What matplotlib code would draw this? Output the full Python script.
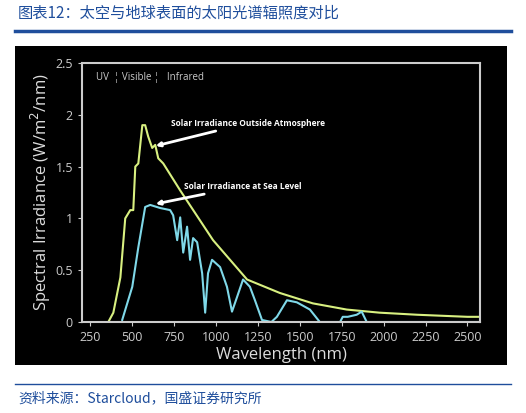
import matplotlib
matplotlib.use("Agg")
import matplotlib.pyplot as plt

space_wl = [357,387,429,458,488,506,518,536,560,577,595,619,637,655,685,786,982,1185,1381,1577,1780,1976,2200,2500,2575]
space_irr = [0,0.09,0.43,1.0,1.08,1.08,1.5,1.53,1.9,1.9,1.79,1.68,1.71,1.58,1.53,1.27,0.79,0.41,0.28,0.18,0.12,0.09,0.07,0.05,0.05]
sea_wl = [440,500,536,577,607,667,726,744,768,786,804,827,845,863,887,917,935,952,976,1024,1065,1095,1125,1161,1202,1232,1274,1330,1363,1423,1482,1560,1619,1740,1756,1786,1839,1869,1899,2000,2575]
sea_irr = [0.02,0.34,0.72,1.11,1.13,1.1,1.08,1.03,0.79,1.01,0.67,0.92,0.6,0.81,0.77,0.47,0.09,0.47,0.6,0.53,0.34,0.1,0.24,0.41,0.34,0.21,0.02,0.0,0.05,0.21,0.19,0.12,0.0,0.0,0.05,0.05,0.07,0.1,0.0,0.0,0.0]
xticks = [250,500,750,1000,1250,1500,1750,2000,2250,2500]
yticks = [0,0.5,1,1.5,2,2.5]
ytick_labels = ["0","0.5","1","1.5","2","2.5"]

plt.rcParams['font.family'] = ['Open Sans', 'DejaVu Sans']
fig = plt.figure(figsize=(5.26,4.13), dpi=100)
W, H = 526, 413
bg = fig.add_axes([15/W, 1-365/H, 492/W, 319/H], zorder=0)
bg.set_facecolor('black'); bg.set_xticks([]); bg.set_yticks([])
for s in bg.spines.values():
    s.set_visible(False)
fig.add_artist(plt.Line2D([15/W, 511/W], [1-31/H]*2, color='#1f4e9c', lw=2.5))
fig.add_artist(plt.Line2D([15/W, 511/W], [1-384/H]*2, color='#1f4e9c', lw=1))
fig.text(18/W, 1-13/H, "图表12：太空与地球表面的太阳光谱辐照度对比", fontsize=11, color='#1f4e9c',
         style='italic', family=['Noto Sans CJK SC','DejaVu Sans'], va='center')
fig.text(18/W, 1-398/H, "资料来源：Starcloud，国盛证券研究所", fontsize=10, color='#1f4e9c',
         style='italic', family=['Noto Sans CJK SC','DejaVu Sans'], va='center')

ax = fig.add_axes([82/W, 1-322/H, 398/W, 259/H], zorder=1)
ax.set_facecolor('black')
ax.plot(space_wl, space_irr, color='#d8f080', lw=1.5)
ax.plot(sea_wl, sea_irr, color='#7fd8e8', lw=1.5)
ax.set_xlim(200, 2575)
ax.set_ylim(0, 2.5)
ax.set_xticks(xticks)
ax.set_yticks(yticks)
ax.set_yticklabels(ytick_labels)
for s in ax.spines.values():
    s.set_color('#cccccc'); s.set_linewidth(1.5)
ax.tick_params(colors='#cccccc', labelsize=9, direction='out', length=3)
ax.set_xlabel("Wavelength (nm)", color='#dddddd', fontsize=12, labelpad=2)
ax.set_ylabel("Spectral Irradiance (W/m$^2$/nm)", color='#dddddd', fontsize=12, labelpad=2)
ax.text(0.035, 0.945, "UV  ¦ Visible ¦   Infrared", transform=ax.transAxes, color='#cccccc', fontsize=7, va='center')
ax.annotate("Solar Irradiance Outside Atmosphere", xy=(640,1.7), xytext=(730,1.92),
            color='white', fontsize=6, fontweight='bold', va='center',
            arrowprops=dict(arrowstyle='-|>', color='white', lw=2, shrinkA=2, shrinkB=0))
ax.annotate("Solar Irradiance at Sea Level", xy=(640,1.14), xytext=(810,1.31),
            color='white', fontsize=6, fontweight='bold', va='center',
            arrowprops=dict(arrowstyle='-|>', color='white', lw=2, shrinkA=2, shrinkB=0))
fig.savefig("out.png", dpi=100, facecolor='white')
